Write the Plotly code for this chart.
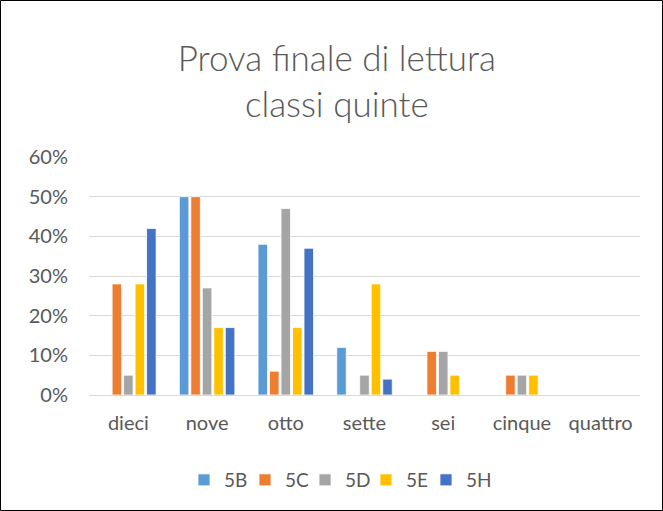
import plotly.graph_objects as go

categories = ["dieci", "nove", "otto", "sette", "sei", "cinque", "quattro"]
series_names = ["5B", "5C", "5D", "5E", "5H"]
v_5B = [0, 0.50, 0.38, 0.12, 0, 0, 0]
v_5C = [0.28, 0.50, 0.06, 0, 0.11, 0.05, 0]
v_5D = [0.05, 0.27, 0.47, 0.05, 0.11, 0.05, 0]
v_5E = [0.28, 0.17, 0.17, 0.28, 0.05, 0.05, 0]
v_5H = [0.42, 0.17, 0.37, 0.04, 0, 0, 0]
values = [v_5B, v_5C, v_5D, v_5E, v_5H]
colors = ["#5B9BD5", "#ED7D31", "#A5A5A5", "#FFC000", "#4472C4"]
tick_vals = [0, 0.1, 0.2, 0.3, 0.4, 0.5, 0.6]
tick_text = ["0%", "10%", "20%", "30%", "40%", "50%", "60%"]

W, H = 663, 511
L, R, T, B = 89, 23, 157, 116
pw = W - L - R
ph = H - T - B

legend_px = [184, 245, 305, 366, 426]

fig = go.Figure()
legend_layout = {}
for i, (name, vals, c) in enumerate(zip(series_names, values, colors)):
    lname = "legend" if i == 0 else f"legend{i + 1}"
    fig.add_trace(go.Bar(x=categories, y=vals, name=name, marker_color=c,
                         marker_line=dict(color="white", width=0.8), legend=lname))
    legend_layout[lname] = dict(orientation="h", x=(legend_px[i] - L) / pw, xanchor="left",
                                y=(395 - 480) / ph, yanchor="middle",
                                font=dict(size=19, color="#595959"),
                                itemwidth=30, bgcolor="rgba(0,0,0,0)")

fig.update_layout(
    width=W, height=H,
    margin=dict(l=L, r=R, t=T, b=B),
    paper_bgcolor="white", plot_bgcolor="white",
    font=dict(family="Lato, 'Open Sans', sans-serif", color="#595959"),
    title=dict(text="Prova finale di lettura<br>classi quinte", x=0.508, xanchor="center",
               y=1 - 71 / H, yanchor="middle",
               font=dict(size=35, color="#595959", weight=300)),
    barmode="group", bargap=0.27, bargroupgap=0.17,
    showlegend=True,
    xaxis=dict(showgrid=False, showline=False, ticks="", ticklabelstandoff=14,
               tickfont=dict(size=20, color="#595959")),
    yaxis=dict(range=[0, 0.6], tickvals=tick_vals, ticktext=tick_text,
               showgrid=True, gridcolor="#D9D9D9", gridwidth=1.3, zeroline=True,
               zerolinecolor="#D9D9D9", zerolinewidth=1.3, ticklabelstandoff=20,
               tickfont=dict(size=20, color="#595959"), ticks=""),
    shapes=[dict(type="rect", xref="paper", yref="paper",
                 x0=(0.5 - L) / pw, x1=(W - 0.5 - L) / pw,
                 y0=(H - B - (H - 0.5)) / ph, y1=(H - B - 0.5) / ph,
                 line=dict(color="black", width=1), fillcolor="rgba(0,0,0,0)", layer="below")],
    **legend_layout,
)

fig.write_html("out.html", config={"displayModeBar": False},
               post_script="document.body.style.margin='0';document.body.style.overflow='hidden';")
